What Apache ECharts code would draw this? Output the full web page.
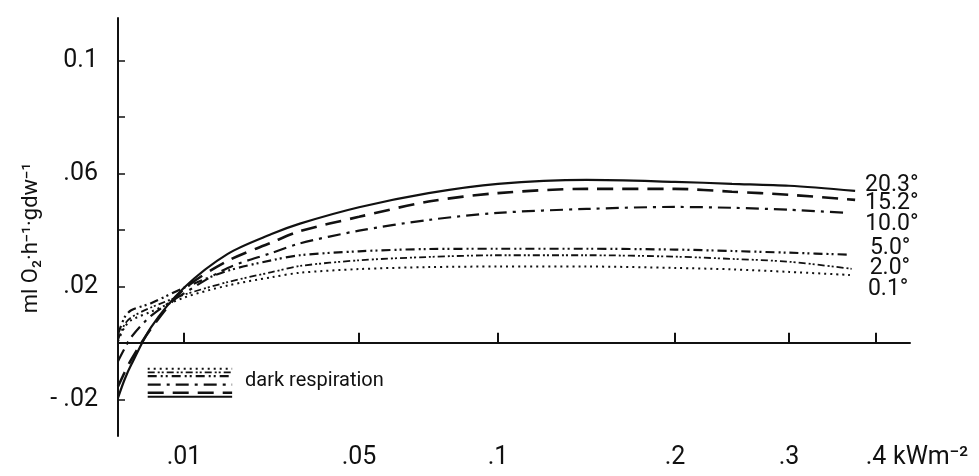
<!DOCTYPE html>
<html>
<head>
<meta charset="utf-8">
<script src="https://cdn.jsdelivr.net/npm/echarts@6/dist/echarts.min.js"></script>
<style>
  html, body { margin: 0; padding: 0; background: #fff; }
  #chart { width: 979px; height: 476px; }
</style>
</head>
<body>
<div id="chart"></div>
<script>
// light intensity (kW m-2) sampled along the curves
const light = [0, 0.001, 0.002, 0.005, 0.01, 0.02, 0.03, 0.0365, 0.05, 0.075, 0.1, 0.15, 0.2, 0.25, 0.3];
const temps = ['20.3°', '15.2°', '10.0°', '5.0°', '2.0°', '0.1°'];
const lightEnd = [0.376, 0.376, 0.368, 0.370, 0.372, 0.370];

// ml O2 h-1 gdw-1, one array per temperature (last value = end of curve)
const o2_203 = [-0.0195, -0.013, -0.0078, 0.0055, 0.0195, 0.0315, 0.0385, 0.0422, 0.048, 0.053, 0.0563, 0.0577, 0.057, 0.0563, 0.0556, 0.0538];
const o2_152 = [-0.0155, -0.0105, -0.006, 0.005, 0.019, 0.029, 0.0355, 0.0395, 0.0446, 0.050, 0.053, 0.0545, 0.0545, 0.0535, 0.0524, 0.0506];
const o2_100 = [-0.0065, -0.002, 0.002, 0.0095, 0.0175, 0.0265, 0.0318, 0.0352, 0.0397, 0.0435, 0.046, 0.0474, 0.0481, 0.0478, 0.0471, 0.046];
const o2_50 = [0.003, 0.009, 0.0115, 0.014, 0.0195, 0.0255, 0.0292, 0.031, 0.0324, 0.0332, 0.0333, 0.0333, 0.033, 0.0325, 0.0319, 0.0312];
const o2_20 = [0.001, 0.0065, 0.009, 0.0125, 0.017, 0.0215, 0.025, 0.0272, 0.0292, 0.0304, 0.031, 0.031, 0.0305, 0.0297, 0.0287, 0.0262];
const o2_01 = [0.0005, 0.0055, 0.008, 0.011, 0.016, 0.0203, 0.0232, 0.0248, 0.0261, 0.0268, 0.027, 0.027, 0.0265, 0.026, 0.0251, 0.024];
const curves = [o2_203, o2_152, o2_100, o2_50, o2_20, o2_01];

// dark respiration levels (legend bars), same order
const darkResp = [-0.0191, -0.0177, -0.0148, -0.0118, -0.0105, -0.0092];
const darkRange = [0.0045, 0.021];

// x tick labels
const xTicks = [0.01, 0.05, 0.1, 0.2, 0.3, 0.4];
const xTickLabels = ['.01', '.05', '.1', '.2', '.3', '.4'];
const yTicks = [-0.02, 0, 0.02, 0.04, 0.06, 0.08, 0.1];
const yLabelVals = [-0.02, 0.02, 0.06, 0.1];
const yLabelText = ['- .02', '.02', '.06', '0.1'];

// the figure's x axis is irregular: piecewise scale through the tick marks
const scaleLight = [0, 0.01, 0.05, 0.1, 0.2, 0.3, 0.4];
const scalePos = [0, 66, 241, 380, 557, 671, 758];
const scaleMax = 792;

function toAxis(l) {
  let i = 0;
  while (i < scaleLight.length - 2 && l > scaleLight[i + 1]) i++;
  const t = (l - scaleLight[i]) / (scaleLight[i + 1] - scaleLight[i]);
  return scalePos[i] + t * (scalePos[i + 1] - scalePos[i]);
}

const styles = [
  { type: 'solid', width: 2.2 },
  { type: [16, 9], width: 2.6 },
  { type: [13, 6, 3, 6], width: 2.2 },
  { type: [9, 4, 2, 3, 2, 4], width: 2.2 },
  { type: [7, 3, 2, 2, 2, 3], width: 1.8 },
  { type: [2, 4], width: 2 }
];
const labelOffset = [[2, -6], [2, 3], [9, 11], [12, -6], [10, -1], [10, 14]];

const font = 'Roboto';
const ink = '#111';

const series = [];
curves.forEach((vals, k) => {
  const xs = light.concat([lightEnd[k]]);
  series.push({
    name: temps[k],
    type: 'line',
    data: vals.map((v, i) => [toAxis(xs[i]), v]),
    showSymbol: false,
    smooth: 0.3,
    lineStyle: Object.assign({ color: ink }, styles[k]),
    endLabel: {
      show: true,
      formatter: temps[k],
      color: ink,
      fontFamily: font,
      fontSize: 23,
      offset: labelOffset[k]
    },
    markLine: k === 0 ? {
      silent: true,
      symbol: 'none',
      label: { show: false },
      lineStyle: { color: ink, type: 'solid', width: 1.2 },
      data: [{ yAxis: 0 }]
    } : undefined
  });
  series.push({
    type: 'line',
    silent: true,
    showSymbol: false,
    data: darkRange.map(l => [toAxis(l), darkResp[k]]),
    lineStyle: Object.assign({ color: ink }, styles[k])
  });
});

const myChart = echarts.init(document.getElementById('chart'));
myChart.setOption({
  animation: false,
  backgroundColor: '#fff',
  grid: { left: 118, right: 69, top: 18, bottom: 40 },
  xAxis: {
    type: 'value',
    min: 0,
    max: scaleMax,
    splitLine: { show: false },
    axisLine: { lineStyle: { color: ink, width: 2 } },
    axisTick: {
      inside: true, length: 10,
      lineStyle: { color: ink, width: 2 },
      customValues: xTicks.map(toAxis)
    },
    axisLabel: {
      color: ink, fontFamily: font, fontSize: 25, margin: 9,
      customValues: xTicks.map(toAxis),
      formatter: v => {
        const i = xTicks.findIndex(t => Math.abs(toAxis(t) - v) < 0.5);
        return i >= 0 ? xTickLabels[i] : '';
      }
    }
  },
  yAxis: {
    type: 'value',
    min: -0.033,
    max: 0.115,
    splitLine: { show: false },
    axisLine: { lineStyle: { color: ink, width: 2 } },
    axisTick: {
      inside: true, length: 7,
      lineStyle: { color: ink, width: 1.5 },
      customValues: yTicks
    },
    axisLabel: {
      color: ink, fontFamily: font, fontSize: 25, margin: 20,
      customValues: yLabelVals,
      formatter: v => {
        const i = yLabelVals.findIndex(t => Math.abs(t - v) < 1e-6);
        return i >= 0 ? yLabelText[i] : '';
      }
    }
  },
  graphic: [
    {
      type: 'text', left: 20, top: 'middle', rotation: Math.PI / 2,
      style: { text: 'ml O₂·h⁻¹·gdw⁻¹', fill: ink, font: '22px Roboto' }
    },
    { type: 'text', left: 245, top: 371, style: { text: 'dark respiration', fill: ink, font: '20px Roboto' } },
    { type: 'text', left: 893, top: 445, style: { text: 'kWm⁻²', fill: ink, font: '25px Roboto' } }
  ],
  series: series
});
</script>
</body>
</html>
